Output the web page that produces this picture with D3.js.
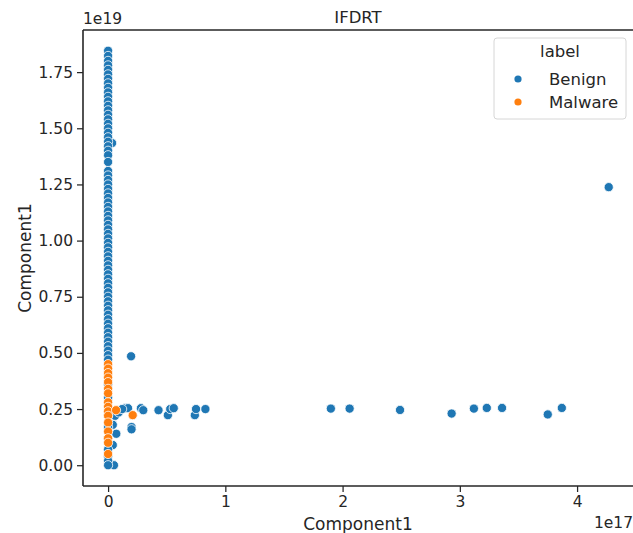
<!DOCTYPE html>
<html>
<head>
<meta charset="utf-8">
<script src="https://cdn.jsdelivr.net/npm/d3@7"></script>
<style>
  body { margin: 0; background: #fff; }
  svg { font-family: "DejaVu Sans", sans-serif; }
</style>
</head>
<body>
<div id="chart"></div>
<script>
// values in units of 1e17 (x) and 1e19 (y)
let benignColumn = [1.845, 1.822, 1.80, 1.78, 1.76, 1.74, 1.72, 1.70, 1.68, 1.66, 1.64, 1.62,
  1.60, 1.58, 1.56, 1.54, 1.52, 1.50, 1.48, 1.46, 1.44, 1.42, 1.40, 1.38, 1.35, 1.31, 1.29,
  1.27, 1.25, 1.23, 1.21, 1.19, 1.17, 1.15, 1.13, 1.11, 1.09, 1.07, 1.05, 1.03, 1.01, 0.99,
  0.97, 0.95, 0.93, 0.91, 0.89, 0.87, 0.85, 0.83, 0.81, 0.79, 0.77, 0.75, 0.73, 0.71, 0.69,
  0.67, 0.65, 0.63, 0.61, 0.59, 0.57, 0.55, 0.53, 0.51, 0.49, 0.47, 0.36, 0.30, 0.22, 0.17,
  0.12, 0.07, 0.04, 0.02, 0.0];
// scattered benign points (first one sits under the column)
let benignX = [0.034, 0.196, 0.145, 0.17, 0.28, 0.30, 0.43, 0.51, 0.53, 0.56, 0.74, 0.75, 0.83,
  0.20, 0.20, 0.07, 0.04, 0.04, 0.05, 0.06, 0.09, 0.12,
  1.90, 2.06, 2.49, 2.93, 3.12, 3.23, 3.36, 3.75, 3.87, 4.27];
let benignY = [1.434, 0.485, 0.254, 0.254, 0.254, 0.245, 0.245, 0.223, 0.25, 0.254, 0.223, 0.25, 0.25,
  0.17, 0.16, 0.14, 0.09, 0.18, 0.0, 0.22, 0.235, 0.25,
  0.252, 0.252, 0.246, 0.230, 0.252, 0.255, 0.255, 0.226, 0.255, 1.238];
let malwareColumn = [0.45, 0.43, 0.41, 0.39, 0.37, 0.34, 0.32, 0.28, 0.26, 0.24, 0.22, 0.19,
  0.15, 0.12, 0.10, 0.05];
let malwareX = [0.068, 0.21];
let malwareY = [0.245, 0.223];

let labels = ["Benign", "Malware"];
let colors = ["#1f77b4", "#ff7f0e"];
let xTicks = [0, 1, 2, 3, 4];
let yTicks = [0, 0.25, 0.5, 0.75, 1.0, 1.25, 1.5, 1.75];

let points = [];
benignX.forEach((v, i) => points.push({x: v, y: benignY[i], label: "Benign"}));
benignColumn.forEach(v => points.push({x: 0, y: v, label: "Benign"}));
malwareColumn.forEach(v => points.push({x: 0, y: v, label: "Malware"}));
malwareX.forEach((v, i) => points.push({x: v, y: malwareY[i], label: "Malware"}));

let width = 633, height = 533;
let plotLeft = 83, plotRight = 635, plotTop = 30, plotBottom = 486;

let svg = d3.select("#chart").append("svg")
  .attr("width", width)
  .attr("height", height);

let x = d3.scaleLinear().domain([-0.214, 4.494]).range([plotLeft, plotRight]);
let y = d3.scaleLinear().domain([-0.0925, 1.9375]).range([plotBottom, plotTop]);
let color = d3.scaleOrdinal().domain(labels).range(colors);

let ink = "#262626";

// axes
let xAxis = svg.append("g")
  .attr("transform", `translate(0,${plotBottom})`)
  .call(d3.axisBottom(x).tickValues(xTicks).tickFormat(d3.format("d")).tickSize(6).tickPadding(4));

let yAxis = svg.append("g")
  .attr("transform", `translate(${plotLeft},0)`)
  .call(d3.axisLeft(y).tickValues(yTicks).tickFormat(d3.format(".2f")).tickSize(6).tickPadding(4));

[xAxis, yAxis].forEach(a => {
  a.select(".domain").remove();
  a.selectAll(".tick line").attr("stroke", ink).attr("stroke-width", 1.25);
  a.selectAll(".tick text").attr("fill", ink).style("font-size", "15.5px")
    .style("font-family", "DejaVu Sans");
});

// spines
svg.append("line").attr("x1", plotLeft).attr("x2", plotLeft).attr("y1", plotTop).attr("y2", plotBottom)
  .attr("stroke", ink).attr("stroke-width", 1.6);
svg.append("line").attr("x1", plotLeft).attr("x2", plotRight).attr("y1", plotBottom).attr("y2", plotBottom)
  .attr("stroke", ink).attr("stroke-width", 1.6);
svg.append("line").attr("x1", plotLeft).attr("x2", plotRight).attr("y1", plotTop).attr("y2", plotTop)
  .attr("stroke", ink).attr("stroke-width", 1.6);

// points
svg.append("g")
  .selectAll("circle")
  .data(points)
  .enter()
  .append("circle")
  .attr("cx", d => x(d.x))
  .attr("cy", d => y(d.y))
  .attr("r", 4.6)
  .attr("fill", d => color(d.label))
  .attr("stroke", "#fff")
  .attr("stroke-width", 0.8);

// texts
svg.append("text").attr("x", (plotLeft + plotRight) / 2 - 1).attr("y", 23)
  .attr("text-anchor", "middle").attr("fill", ink).style("font-size", "16.5px").text("IFDRT");
svg.append("text").attr("x", plotLeft).attr("y", 24)
  .attr("fill", ink).style("font-size", "15.5px").text("1e19");
svg.append("text").attr("x", 633).attr("y", 528)
  .attr("text-anchor", "end").attr("fill", ink).style("font-size", "15.5px").text("1e17");
svg.append("text").attr("x", 358).attr("y", 530)
  .attr("text-anchor", "middle").attr("fill", ink).style("font-size", "17px").text("Component1");
svg.append("text")
  .attr("transform", `translate(31,${(plotTop + plotBottom) / 2}) rotate(-90)`)
  .attr("text-anchor", "middle").attr("fill", ink).style("font-size", "17px").text("Component1");

// legend
let legend = svg.append("g").attr("transform", "translate(494,38)");
legend.append("rect")
  .attr("width", 132).attr("height", 81).attr("rx", 3)
  .attr("fill", "#fff").attr("fill-opacity", 0.8)
  .attr("stroke", "#d6d6d6").attr("stroke-width", 1);
legend.append("text").attr("x", 66).attr("y", 19)
  .attr("text-anchor", "middle").attr("fill", ink).style("font-size", "16.5px").text("label");
let items = legend.selectAll(".item")
  .data(labels)
  .enter()
  .append("g")
  .attr("transform", (d, i) => `translate(0,${41 + i * 23})`);
items.append("circle").attr("cx", 24).attr("cy", 0).attr("r", 3.6)
  .attr("fill", d => color(d));
items.append("text").attr("x", 55).attr("y", 5.5)
  .attr("fill", ink).style("font-size", "16.5px").text(d => d);
</script>
</body>
</html>
